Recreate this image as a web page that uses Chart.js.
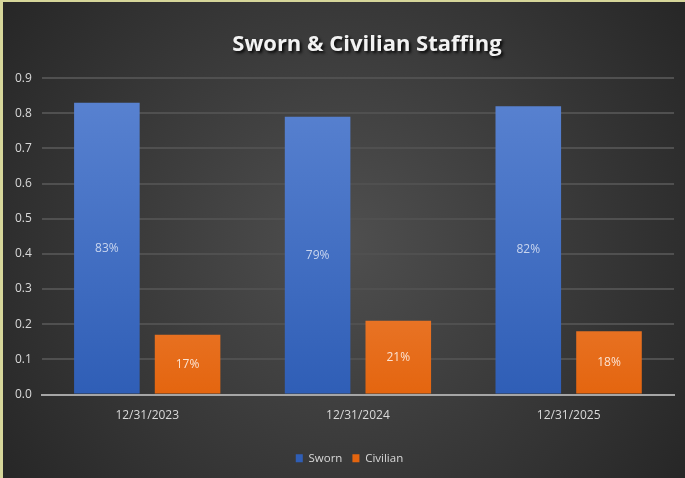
<!DOCTYPE html>
<html><head><meta charset="utf-8">
<script src="https://cdn.jsdelivr.net/npm/chart.js@4"></script>
<style>
html,body{margin:0;padding:0;background:#2a2a2a;}
#wrap{position:relative;width:685px;height:478px;box-sizing:border-box;border-top:2px solid #d6d69a;border-left:3px solid #d6d69a;}
canvas{display:block;}
</style></head>
<body><div id="wrap"><canvas id="c" width="682" height="476"></canvas></div>
<script>
const categories = ["12/31/2023", "12/31/2024", "12/31/2025"];
const sworn = [0.83, 0.79, 0.82];
const civilian = [0.17, 0.21, 0.18];
const swornLabels = ["83%", "79%", "82%"];
const civilianLabels = ["17%", "21%", "18%"];
const titleText = "Sworn & Civilian Staffing";

function vgrad(ctx, area, top, bottom){
  const g = ctx.createLinearGradient(0, area.top, 0, area.bottom);
  g.addColorStop(0, top); g.addColorStop(1, bottom); return g;
}

const bgPlugin = {
  id:'bg',
  beforeDraw(chart){
    const {ctx,width,height} = chart;
    const g = ctx.createRadialGradient(width*0.5, height*0.5, 10, width*0.5, height*0.5, width*0.62);
    g.addColorStop(0,'#4e4e4e'); g.addColorStop(1,'#262626');
    ctx.save(); ctx.fillStyle=g; ctx.fillRect(0,0,width,height); ctx.restore();
  }
};
const titlePlugin = {
  id:'ttl',
  afterDraw(chart){
    const {ctx} = chart;
    ctx.save();
    ctx.font = 'bold 22px "Open Sans"';
    ctx.textAlign='center'; ctx.textBaseline='middle';
    ctx.shadowColor='rgba(0,0,0,0.85)'; ctx.shadowOffsetX=2; ctx.shadowOffsetY=2; ctx.shadowBlur=3;
    ctx.fillStyle='#f2f2f2';
    ctx.fillText(titleText, 364, 43);
    ctx.restore();
  }
};
const legendShift = {
  id:'lshift',
  afterUpdate(chart){
    const l = chart.legend; if(!l) return;
    l.left += 10; l.right += 10;
  }
};
const labelPlugin = {
  id:'lbl',
  afterDatasetsDraw(chart){
    const {ctx} = chart;
    const sets = [swornLabels, civilianLabels];
    const cols = ['#c9d5ee','#fbe3d3'];
    ctx.save();
    ctx.font = '12px "Open Sans"'; ctx.textAlign='center'; ctx.textBaseline='middle';
    chart.data.datasets.forEach((ds,i)=>{
      chart.getDatasetMeta(i).data.forEach((bar,j)=>{
        ctx.fillStyle = cols[i];
        ctx.fillText(sets[i][j], bar.x, (bar.y + bar.base)/2);
      });
    });
    ctx.restore();
  }
};

new Chart(document.getElementById('c'), {
  type:'bar',
  data:{
    labels: categories,
    datasets:[
      {label:'Sworn', data:sworn,
       backgroundColor:(c)=>{const a=c.chart.chartArea; if(!a) return '#4472c4'; return vgrad(c.chart.ctx,a,'#5b84d2','#2f5eb6');},
       borderWidth:0},
      {label:'Civilian', data:civilian,
       backgroundColor:(c)=>{const a=c.chart.chartArea; if(!a) return '#ed7d31'; return vgrad(c.chart.ctx,a,'#f6a06a','#e4650f');},
       borderWidth:0}
    ]
  },
  options:{
    responsive:false, animation:false,
    categoryPercentage:0.766, barPercentage:0.8125,
    layout:{padding:{left:2,right:11,top:0,bottom:4}},
    plugins:{
      title:{display:true, text:titleText, color:'rgba(0,0,0,0)', font:{size:21,family:'"Open Sans"',weight:'bold'}, padding:{top:28,bottom:23}},
      legend:{position:'bottom', labels:{color:'#d9d9d9', boxWidth:7, boxHeight:8, padding:10, font:{size:11.5,family:'"Open Sans"'}}},
      tooltip:{enabled:false}
    },
    scales:{
      x:{grid:{display:false, drawTicks:false}, border:{display:true,color:'#a6a6a6',width:2},
         ticks:{color:'#d9d9d9', padding:14, font:{size:12,family:'"Open Sans"'}},
         afterFit(s){s.height=48;}},
      y:{min:0,max:0.9, grid:{color:'#505050', lineWidth:2, drawTicks:false}, border:{display:false},
         ticks:{stepSize:0.1, color:'#d9d9d9', padding:10, font:{size:12,family:'"Open Sans"'}, callback:(v)=>Number(v).toFixed(1)}}
    }
  },
  plugins:[bgPlugin, labelPlugin, titlePlugin, legendShift]
});
</script></body></html>
